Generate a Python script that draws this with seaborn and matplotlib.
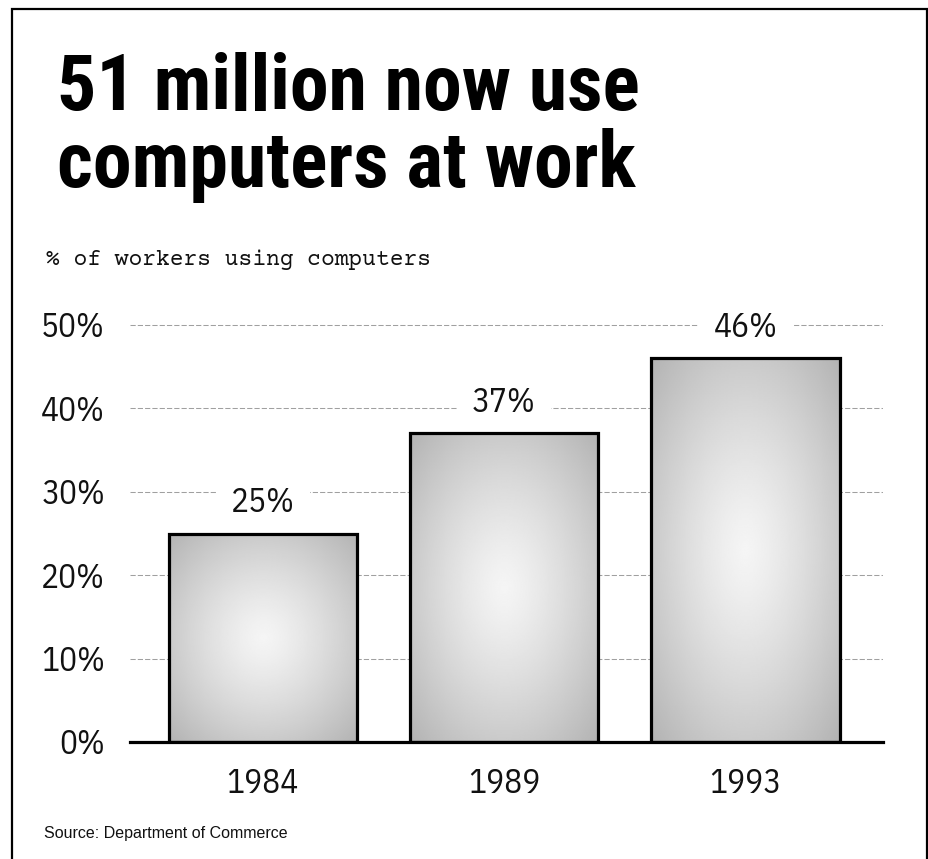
import numpy as np
import pandas as pd
import matplotlib
matplotlib.use("Agg")
import matplotlib.pyplot as plt
from matplotlib.patches import Rectangle
import seaborn as sns

# ---- data -------------------------------------------------------------
years = ["1984", "1989", "1993"]
share_pct = [25, 37, 46]
y_ticks = [0, 10, 20, 30, 40, 50]
y_tick_labels = ["0%", "10%", "20%", "30%", "40%", "50%"]

title_lines = ["51 million now use", "computers at work"]
subtitle = "% of workers using computers"
source = "Source: Department of Commerce"

df = pd.DataFrame({"year": years, "share": share_pct})

# ---- style ------------------------------------------------------------
sns.set_theme(style="white")
BODY = ["IBM Plex Sans Condensed", "Fira Sans Condensed", "DejaVu Sans"]
HEAD = ["Roboto Condensed", "Archivo Narrow", "Fira Sans Condensed", "DejaVu Sans"]
MONO = ["Courier Prime", "Cutive Mono", "DejaVu Serif"]
plt.rcParams["font.family"] = BODY

W, H = 929, 859
fig = plt.figure(figsize=(W / 100, H / 100), dpi=100)
fig.patch.set_facecolor("white")

# axes placed in pixel terms
px_per_unit = 8.34
ax_left, ax_right = 130, 883
y0_px = 742
ymax = 50.5
top_px = y0_px - ymax * px_per_unit
ax = fig.add_axes([ax_left / W, (H - y0_px) / H,
                   (ax_right - ax_left) / W, (y0_px - top_px) / H])
ax.set_facecolor("none")

sns.barplot(data=df, x="year", y="share", order=years, width=0.78,
            color="white", edgecolor="black", linewidth=2.3,
            ax=ax, zorder=3)

# radial grey shading inside each bar
n = 200
gx, gy = np.meshgrid(np.linspace(-1, 1, n), np.linspace(-1, 1, n))
rr = np.sqrt(gx ** 2 + gy ** 2) / np.sqrt(2)
shade = 0.96 - (0.96 - 0.70) * rr ** 1.25
for p in ax.patches:
    x0, y0 = p.get_x(), p.get_y()
    w, h = p.get_width(), p.get_height()
    im = ax.imshow(shade, cmap="gray", vmin=0, vmax=1,
                   extent=(x0, x0 + w, y0, y0 + h), origin="lower",
                   aspect="auto", interpolation="bilinear", zorder=2.5)
    im.set_clip_path(p)
    p.set_facecolor("none")
    p.set_zorder(3)
ax.set_aspect("auto")
ax.set_xlim(-0.55, 2.57)
ax.set_ylim(0, ymax)

# dashed horizontal grid
ax.set_yticks(y_ticks)
ax.set_yticklabels(y_tick_labels)
ax.yaxis.grid(True, color="#a0a0a0", linewidth=0.75,
              linestyle=(0, (5, 2)), zorder=0)
ax.xaxis.grid(False)
ax.set_axisbelow(True)

for s in ["left", "right", "top"]:
    ax.spines[s].set_visible(False)
ax.spines["bottom"].set_color("black")
ax.spines["bottom"].set_linewidth(2.3)
ax.spines["bottom"].set_zorder(4)

ax.tick_params(axis="both", length=0, labelsize=24, colors="#111111")
ax.tick_params(axis="y", pad=18)
ax.tick_params(axis="x", pad=19)
ax.set_xlabel("")
ax.set_ylabel("")

# value labels above bars; the white box breaks the grid lines behind them
for i, v in enumerate(share_pct):
    ax.annotate(f"{v}%", xy=(i, v), xytext=(0, 22), textcoords="offset points",
                ha="center", va="center", fontsize=24, color="#111111",
                bbox=dict(boxstyle="square,pad=0.45", fc="white", ec="none"),
                zorder=2.2, annotation_clip=False)

# headline, subtitle, source
for line, base_px in zip(title_lines, [110, 187]):
    fig.text(57 / W, 1 - base_px / H, line, fontsize=56, fontweight="bold",
             family=HEAD, va="baseline", ha="left", color="black")
fig.text(46 / W, 1 - 265 / H, subtitle, fontsize=16.6, fontweight="normal",
         family=MONO, va="baseline", ha="left", color="#111111")
fig.text(44 / W, 1 - 838 / H, source, fontsize=11.5, fontweight="normal",
         family=["Liberation Sans", "DejaVu Sans"], va="baseline", ha="left",
         color="#111111")

# outer frame (open at the bottom edge of the canvas)
frame = Rectangle((12 / W, -0.05), (927 - 12) / W, 1 - 9 / H + 0.05,
                  transform=fig.transFigure, fill=False, edgecolor="black",
                  linewidth=1.6, zorder=10)
fig.add_artist(frame)

fig.savefig("out.png", dpi=100, facecolor="white")
